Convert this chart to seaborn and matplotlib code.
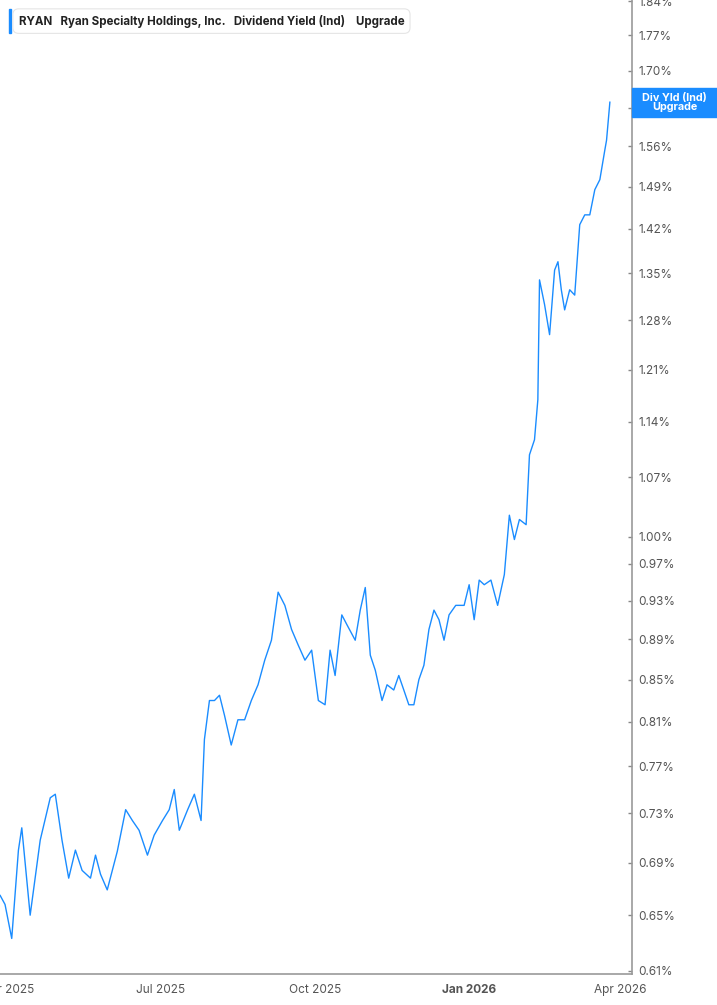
import matplotlib
matplotlib.use("Agg")
import matplotlib.pyplot as plt
from matplotlib.ticker import FixedLocator, NullLocator
import seaborn as sns
import pandas as pd

start_date = "2025-03-27"
day_offsets = [0,3,7,11,13,18,24,30,33,37,41,45,49,54,57,60,64,70,75,79,83,88,92,97,101,104,107,112,116,120,
               122,125,128,131,134,138,142,146,150,154,158,162,166,170,174,178,182,186,190,194,197,200,204,207,212,
               215,218,221,224,228,231,235,238,241,244,247,250,253,256,259,262,265,268,272,277,280,283,286,289,293,
               297,301,304,307,310,314,316,319,321,322,325,328,331,333,335,337,340,343,346,349,352,355,358,361,362,364]
yield_pct = [0.665,0.658,0.633,0.700,0.718,0.650,0.708,0.743,0.746,0.708,0.678,0.700,0.684,0.678,0.696,0.681,0.669,0.699,0.733,0.724,
             0.716,0.696,0.712,0.724,0.733,0.750,0.716,0.733,0.746,0.724,0.794,0.830,0.830,0.835,0.816,0.789,0.812,0.812,0.830,0.845,
             0.869,0.889,0.939,0.925,0.900,0.884,0.869,0.879,0.830,0.826,0.879,0.854,0.915,0.905,0.889,0.920,0.944,0.874,0.859,0.830,
             0.845,0.840,0.854,0.840,0.826,0.826,0.850,0.864,0.900,0.920,0.910,0.889,0.915,0.925,0.925,0.947,0.910,0.952,0.947,0.952,
             0.925,0.958,1.025,0.997,1.020,1.014,1.098,1.117,1.169,1.340,1.303,1.259,1.355,1.368,1.325,1.295,1.325,1.317,1.427,1.443,
             1.443,1.485,1.502,1.554,1.571,1.641]
y_ticks = [0.61,0.65,0.69,0.73,0.77,0.81,0.85,0.89,0.93,0.97,1.00,1.07,1.14,1.21,1.28,1.35,1.42,1.49,1.56,1.63,1.70,1.77,1.84]
x_tick_dates = ["2025-04-01","2025-07-01","2025-10-01","2026-01-01","2026-04-01"]
x_tick_labels = ["Apr 2025","Jul 2025","Oct 2025","Jan 2026","Apr 2026"]

df = pd.DataFrame({"date": pd.to_datetime(start_date) + pd.to_timedelta(day_offsets, unit="D"),
                   "yield": yield_pct})

sns.set_style("white")
plt.rcParams['font.family'] = ['Inter', 'DejaVu Sans']
fig = plt.figure(figsize=(7.17, 10.05), dpi=100)
ax = fig.add_axes([0.0, 0.031, 0.881, 0.969])
sns.lineplot(data=df, x="date", y="yield", ax=ax, color="#1a8cff", linewidth=1.0)
ax.set_yscale("log")
ax.set_ylim(0.608, 1.843)
ax.set_xlim(pd.Timestamp("2025-03-27"), pd.Timestamp("2026-04-08"))
ax.yaxis.set_major_locator(FixedLocator(y_ticks))
ax.yaxis.set_minor_locator(NullLocator())
ax.set_yticklabels([f"{t:.2f}%" for t in y_ticks])
ax.yaxis.tick_right()
ax.set_xticks(pd.to_datetime(x_tick_dates))
ax.set_xticklabels(x_tick_labels)
for lab in ax.get_xticklabels():
    if lab.get_text() == "Jan 2026":
        lab.set_fontweight("bold"); lab.set_fontsize(10)
ax.tick_params(axis="both", colors="#888888", labelcolor="#555555", labelsize=8.5, length=4, width=1)
ax.tick_params(axis="y", direction="in", length=3, pad=5)
ax.set_xlabel(""); ax.set_ylabel("")
for s in ["top", "left"]:
    ax.spines[s].set_visible(False)
ax.spines["right"].set_color("#999999"); ax.spines["bottom"].set_color("#999999")
ax.spines["right"].set_linewidth(1.2); ax.spines["bottom"].set_linewidth(1.2)

fig.text(0.026, 0.979, "RYAN   Ryan Specialty Holdings, Inc.   Dividend Yield (Ind)    Upgrade",
         fontsize=8.3, fontweight="bold", color="#222222", va="center",
         bbox=dict(boxstyle="round,pad=0.5", fc="white", ec="#e5e5e5", lw=0.8))
fig.add_artist(plt.Rectangle((0.012, 0.967), 0.004, 0.024, transform=fig.transFigure, color="#1a8cff"))
fig.add_artist(plt.Rectangle((0.882, 0.884), 0.118, 0.028, transform=fig.transFigure,
                             color="#1a8cff", zorder=10))
fig.text(0.941, 0.898, "Div Yld (Ind)\nUpgrade", fontsize=7.8, fontweight="bold", color="white",
         ha="center", va="center", linespacing=0.95, zorder=11)
fig.savefig("out.png", dpi=100)
